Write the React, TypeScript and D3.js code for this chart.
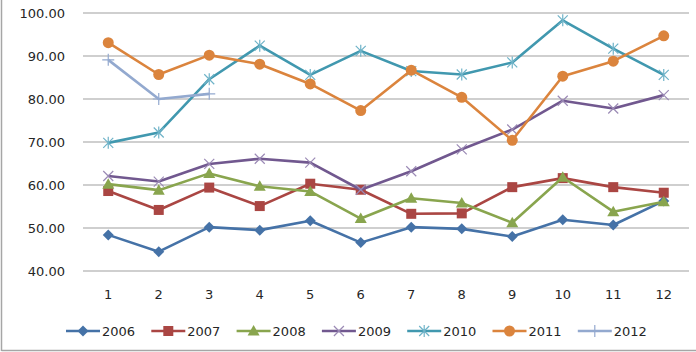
import React from "react";
import * as d3 from "d3";

const months = ["1", "2", "3", "4", "5", "6", "7", "8", "9", "10", "11", "12"];
const yTicks = [40, 50, 60, 70, 80, 90, 100];

const s2006 = [48.4, 44.5, 50.2, 49.5, 51.7, 46.6, 50.2, 49.8, 48.0, 51.9, 50.7, 56.3];
const s2007 = [58.6, 54.2, 59.4, 55.1, 60.3, 58.9, 53.3, 53.4, 59.5, 61.6, 59.5, 58.2];
const s2008 = [60.2, 58.8, 62.7, 59.7, 58.5, 52.2, 56.9, 55.8, 51.2, 61.8, 53.8, 56.1];
const s2009 = [62.1, 60.8, 64.9, 66.1, 65.2, 58.9, 63.2, 68.3, 72.9, 79.6, 77.8, 80.9];
const s2010 = [69.8, 72.2, 84.6, 92.4, 85.6, 91.2, 86.5, 85.7, 88.5, 98.3, 91.7, 85.6];
const s2011 = [93.1, 85.7, 90.2, 88.1, 83.5, 77.3, 86.7, 80.4, 70.4, 85.3, 88.8, 94.7];
const s2012 = [89.1, 80.0, 81.2];

const seriesNames = ["2006", "2007", "2008", "2009", "2010", "2011", "2012"];
const seriesData = [s2006, s2007, s2008, s2009, s2010, s2011, s2012];
const colors = ["#4572A7", "#AA4643", "#89A54E", "#71588F", "#4198AF", "#DB843D", "#93A9CF"];
const markerColors = ["#4572A7", "#AA4643", "#89A54E", "#9B8AB5", "#6FB3C8", "#DB843D", "#93A9CF"];
const markers = ["diamond", "square", "triangle", "x", "star", "circle", "plus"];

const W = 696;
const H = 352;
const FONT = "'DejaVu Sans', Verdana, sans-serif";

function Marker({ type, x, y, color }: { type: string; x: number; y: number; color: string }) {
  switch (type) {
    case "diamond":
      return <path d={`M${x},${y - 5.5}L${x + 5.5},${y}L${x},${y + 5.5}L${x - 5.5},${y}Z`} fill={color} />;
    case "square":
      return <rect x={x - 5} y={y - 5} width={10} height={10} fill={color} />;
    case "triangle":
      return <path d={`M${x},${y - 6}L${x + 6},${y + 4.5}L${x - 6},${y + 4.5}Z`} fill={color} />;
    case "circle":
      return <circle cx={x} cy={y} r={5.5} fill={color} />;
    case "x":
      return (
        <path d={`M${x - 5},${y - 5}L${x + 5},${y + 5}M${x - 5},${y + 5}L${x + 5},${y - 5}`} stroke={color} strokeWidth={1.2} />
      );
    case "star":
      return (
        <path
          d={`M${x - 5},${y - 5}L${x + 5},${y + 5}M${x - 5},${y + 5}L${x + 5},${y - 5}M${x},${y - 6}L${x},${y + 6}`}
          stroke={color}
          strokeWidth={1.2}
        />
      );
    case "plus":
      return <path d={`M${x - 6},${y}L${x + 6},${y}M${x},${y - 6}L${x},${y + 6}`} stroke={color} strokeWidth={1.2} />;
    default:
      return null;
  }
}

export default function App() {
  const x = d3.scaleBand<string>().domain(months).range([83, 689]);
  const y = d3.scaleLinear().domain([40, 100]).range([271, 13]);
  const cx = (i: number) => (x(months[i]) as number) + x.bandwidth() / 2;
  const line = d3
    .line<number>()
    .x((_, i) => cx(i))
    .y((d) => y(d));

  const legendStart = 66;
  const legendStep = 85.3;

  return (
    <svg width={W} height={H} style={{ position: "absolute", left: 0, top: 0 }} fontFamily={FONT}>
      <rect x={0} y={0} width={W} height={H} fill="#ffffff" />
      <line x1={1.5} y1={0} x2={1.5} y2={351} stroke="#A6A6A6" strokeWidth={1.5} />
      <line x1={1.5} y1={350.5} x2={W} y2={350.5} stroke="#A6A6A6" strokeWidth={1.5} />
      {yTicks.map((t) => (
        <g key={t}>
          <line x1={83} x2={689} y1={y(t)} y2={y(t)} stroke="#BFBFBF" strokeWidth={1.3} />
          <text x={65} y={y(t)} dy="0.35em" textAnchor="end" fontSize={13} fill="#262626">
            {t.toFixed(2)}
          </text>
        </g>
      ))}
      {months.map((m, i) => (
        <text key={m} x={cx(i)} y={294} dy="0.35em" textAnchor="middle" fontSize={13} fill="#262626">
          {m}
        </text>
      ))}
      {seriesData.map((data, si) => (
        <g key={seriesNames[si]}>
          <path d={line(data) || ""} fill="none" stroke={colors[si]} strokeWidth={2.6} strokeLinejoin="round" />
          {data.map((v, i) => (
            <Marker key={i} type={markers[si]} x={cx(i)} y={y(v)} color={markerColors[si]} />
          ))}
        </g>
      ))}
      {seriesNames.map((name, si) => {
        const lx = legendStart + si * legendStep;
        const ly = 331;
        return (
          <g key={name}>
            <line x1={lx} x2={lx + 34} y1={ly} y2={ly} stroke={colors[si]} strokeWidth={2.6} />
            <Marker type={markers[si]} x={lx + 17} y={ly} color={markerColors[si]} />
            <text x={lx + 36} y={ly} dy="0.35em" fontSize={13} fill="#262626">
              {name}
            </text>
          </g>
        );
      })}
    </svg>
  );
}
